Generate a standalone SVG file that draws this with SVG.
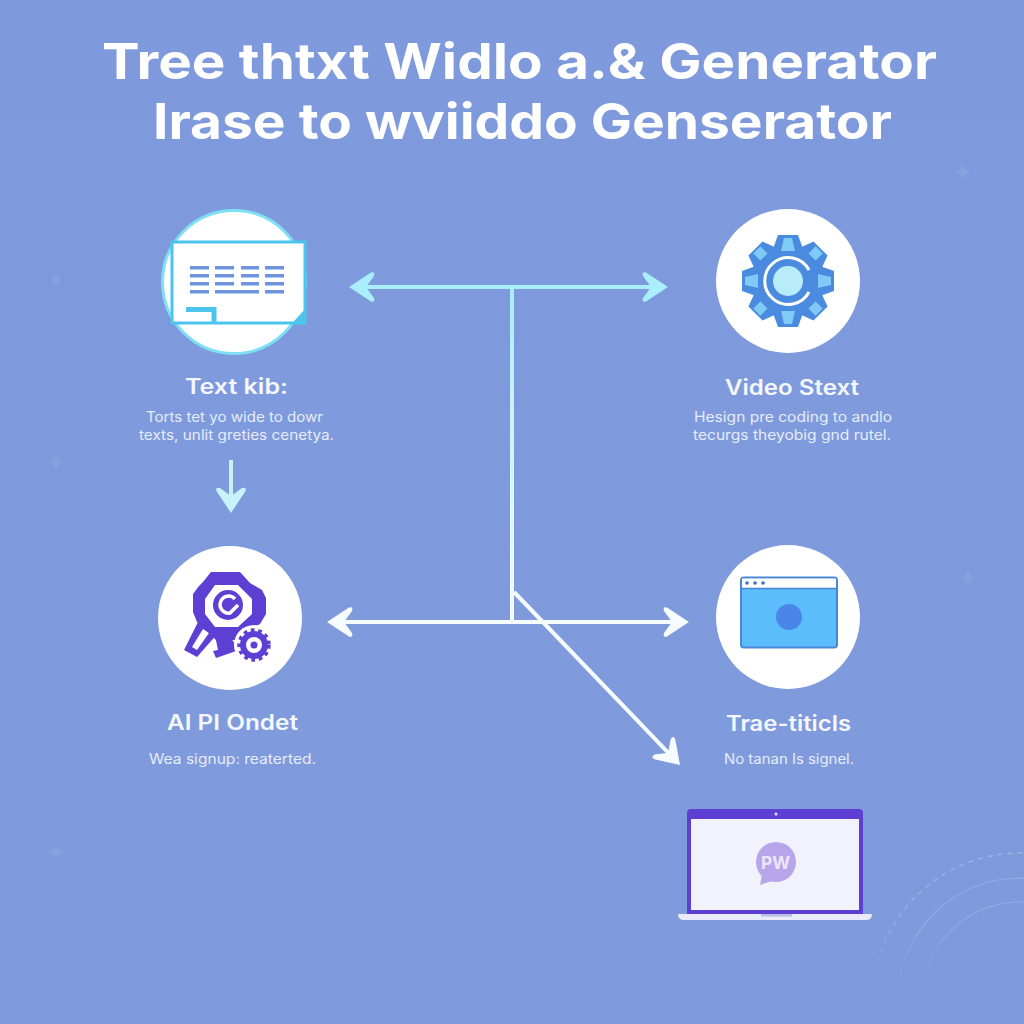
<svg xmlns="http://www.w3.org/2000/svg" width="1024" height="1024" viewBox="0 0 1024 1024">
<style>
text{font-family:"Inter","Liberation Sans",sans-serif;text-anchor:middle;fill:#fff}
.title{font-size:50px;font-weight:700}
.head{font-size:21px;font-weight:600;fill:#f4f7fe}
.body{font-size:14px;font-weight:400;fill:#e6ecfb}
.disc{fill:#fff}
.conn{fill:none;stroke-width:4}
.spark{fill:#fff;opacity:.07}
.deco{fill:none;stroke:url(#fade);stroke-width:1.200}
.bar{fill:#6f93de}
</style>
<defs>
<linearGradient id="bg" x1="0" y1="0" x2="0" y2="1"><stop offset="0" stop-color="#7e9adc"/><stop offset="1" stop-color="#7f9bdc"/></linearGradient>
<linearGradient id="stem" gradientUnits="userSpaceOnUse" x1="0" y1="287" x2="0" y2="622"><stop offset="0" stop-color="#a8eefc"/><stop offset="1" stop-color="#f8fcfe"/></linearGradient>
<linearGradient id="fade" gradientUnits="userSpaceOnUse" x1="0" y1="850" x2="0" y2="985"><stop offset="0" stop-color="#fff" stop-opacity=".32"/><stop offset=".6" stop-color="#fff" stop-opacity=".2"/><stop offset="1" stop-color="#fff" stop-opacity="0"/></linearGradient>
<marker id="hc" viewBox="-27 -17 29 34" refX="-15" refY="0" markerWidth="29" markerHeight="34" markerUnits="userSpaceOnUse" orient="auto-start-reverse"><path d="M0 0L-22 -14.500Q-26.500 -16 -25 -11L-17 0L-25 11Q-26.500 16 -22 14.500Z" fill="#a8eefc"/></marker>
<marker id="hw" viewBox="-27 -17 29 34" refX="-15" refY="0" markerWidth="29" markerHeight="34" markerUnits="userSpaceOnUse" orient="auto-start-reverse"><path d="M0 0L-22 -14.500Q-26.500 -16 -25 -11L-17 0L-25 11Q-26.500 16 -22 14.500Z" fill="#f6fbfe"/></marker>
<marker id="hp" viewBox="-27 -17 29 34" refX="-15" refY="0" markerWidth="29" markerHeight="34" markerUnits="userSpaceOnUse" orient="auto-start-reverse"><path d="M0 0L-22 -14.500Q-26.500 -16 -25 -11L-17 0L-25 11Q-26.500 16 -22 14.500Z" fill="#c8f3fb"/></marker>
<path id="sp" d="M0 -10Q1 -1 8 0Q1 1 0 10Q-1 1 -8 0Q-1 -1 0 -10Z"/>
<path id="tooth" d="M-10 -46H10L15 -32H-15Z" fill="#4a8be0"/>
<path id="win" d="M-4 -43H4L7 -30H-7Z" fill="#7fcaf6"/>
<path id="dia" d="M-5 -44H5V-34H-5Z" fill="#7fcaf6"/>
</defs>
<rect width="1024" height="1024" fill="url(#bg)"/>

<g id="decor">
<use href="#sp" class="spark" x="963" y="172"/>
<use href="#sp" class="spark" x="56" y="280"/>
<use href="#sp" class="spark" x="56" y="462"/>
<use href="#sp" class="spark" x="968" y="578"/>
<use href="#sp" class="spark" x="56" y="852"/>
<circle class="deco" cx="1020" cy="1000" r="147" stroke-dasharray="5 5"/>
<circle class="deco" cx="1020" cy="1000" r="122" opacity=".7"/>
<circle class="deco" cx="1020" cy="1000" r="98" opacity=".7"/>
</g>

<g id="title">
<text class="title" x="519.500" y="79" textLength="835" lengthAdjust="spacingAndGlyphs">Tree thtxt Widlo a.&amp; Generator</text>
<text class="title" x="522.500" y="139" textLength="739" lengthAdjust="spacingAndGlyphs">Irase to wviiddo Genserator</text>
</g>

<g id="connectors">
<line class="conn" x1="364" y1="287" x2="653" y2="287" stroke="#a8eefc" marker-start="url(#hc)" marker-end="url(#hc)"/>
<line class="conn" x1="512" y1="287" x2="512" y2="622" stroke="url(#stem)"/>
<line class="conn" x1="342" y1="622" x2="674" y2="622" stroke="#f6fbfe" marker-start="url(#hw)" marker-end="url(#hw)"/>
<line class="conn" x1="514" y1="592" x2="669.600" y2="754.200" stroke="#f6fbfe" marker-end="url(#hw)"/>
<line class="conn" x1="231" y1="460" x2="231" y2="498" stroke="#c8f3fb" marker-end="url(#hp)"/>
</g>

<g id="node-text">
<circle cx="234" cy="282" r="71.500" fill="#fff" stroke="#7fe0f4" stroke-width="3"/>
<rect x="172" y="242" width="133" height="81" fill="#fff" stroke="#4cc4ee" stroke-width="3"/>
<path d="M306 308V324.500H291Z" fill="#4cc4ee"/>
<path d="M186 309.500H214V322" fill="none" stroke="#4cc4ee" stroke-width="5"/>
<g class="bar">
<rect x="190" y="266" width="19" height="3.500"/><rect x="215" y="266" width="19" height="3.500"/><rect x="241" y="266" width="18" height="3.500"/><rect x="265" y="266" width="19" height="3.500"/>
<rect x="190" y="274" width="19" height="3.500"/><rect x="215" y="274" width="19" height="3.500"/><rect x="241" y="274" width="18" height="3.500"/><rect x="265" y="274" width="19" height="3.500"/>
<rect x="190" y="282" width="19" height="3.500"/><rect x="215" y="282" width="19" height="3.500"/><rect x="241" y="282" width="18" height="3.500"/><rect x="265" y="282" width="19" height="3.500"/>
<rect x="190" y="290" width="19" height="3.500"/><rect x="215" y="290" width="44" height="3.500"/><rect x="265" y="290" width="19" height="3.500"/>
</g>
<text class="head" x="236.500" y="394" textLength="103" lengthAdjust="spacingAndGlyphs">Text kib:</text>
<text class="body" x="234.500" y="422" textLength="177" lengthAdjust="spacingAndGlyphs">Torts tet yo wide to dowr</text>
<text class="body" x="236.500" y="440" textLength="195" lengthAdjust="spacingAndGlyphs">texts, unlit greties cenetya.</text>
</g>

<g id="node-video">
<circle class="disc" cx="788" cy="281" r="72"/>
<circle cx="788" cy="281" r="37" fill="#4a8be0"/>
<g transform="translate(788 281)">
<use href="#tooth"/><use href="#tooth" transform="rotate(45)"/><use href="#tooth" transform="rotate(90)"/><use href="#tooth" transform="rotate(135)"/><use href="#tooth" transform="rotate(180)"/><use href="#tooth" transform="rotate(225)"/><use href="#tooth" transform="rotate(270)"/><use href="#tooth" transform="rotate(315)"/>
<use href="#win"/><use href="#win" transform="rotate(90)"/><use href="#win" transform="rotate(180)"/><use href="#win" transform="rotate(270)"/>
<use href="#dia" transform="rotate(45)"/><use href="#dia" transform="rotate(135)"/><use href="#dia" transform="rotate(225)"/><use href="#dia" transform="rotate(315)"/>
</g>
<path d="M809 270A23.500 23.500 0 1 0 809 292" fill="none" stroke="#fff" stroke-width="3"/>
<circle cx="788" cy="281" r="15" fill="#b9ecf9"/>
<text class="head" x="792" y="395" textLength="134" lengthAdjust="spacingAndGlyphs">Video Stext</text>
<text class="body" x="793" y="422" textLength="198" lengthAdjust="spacingAndGlyphs">Hesign pre coding to andlo</text>
<text class="body" x="792" y="440" textLength="198" lengthAdjust="spacingAndGlyphs">tecurgs theyobig gnd rutel.</text>
</g>

<g id="node-ai">
<circle class="disc" cx="230" cy="618" r="72"/>
<path fill="#5d3fd3" d="M200 618L184 650L197 657L219 632Z"/>
<path fill="#fff" d="M203 629L192 647L197 650L209 633Z"/>
<path fill="#5d3fd3" d="M213 626H223L239 650L216 658L213 651L218 650Z"/>
<path fill="#5d3fd3" d="M211 572H240L250 583L262 590L266 598V614L260 624L248 630L240 640H216L206 630L197 622L193 612V594L199 586L203 582Z"/>
<path fill="#fff" d="M215 585H238L252 599V614L238 627H215L205 614V599Z"/>
<circle cx="228" cy="605" r="15" fill="#5d3fd3"/>
<path d="M235 599A8.500 8.500 0 1 0 230 613L238 605" fill="none" stroke="#fff" stroke-width="3.500"/>
<circle cx="254" cy="645" r="20" fill="#fff"/>
<circle cx="254" cy="645" r="11" fill="none" stroke="#5d3fd3" stroke-width="6"/>
<circle cx="254" cy="645" r="14.500" fill="none" stroke="#5d3fd3" stroke-width="4.500" stroke-dasharray="3.600 3.600"/>
<circle cx="254" cy="645" r="3.500" fill="#5d3fd3"/>
<text class="head" x="232.500" y="730" textLength="131" lengthAdjust="spacingAndGlyphs">AI PI Ondet</text>
<text class="body" x="232.500" y="764" textLength="167" lengthAdjust="spacingAndGlyphs">Wea signup: reaterted.</text>
</g>

<g id="node-browser">
<circle class="disc" cx="788" cy="617" r="72"/>
<rect x="741" y="577.500" width="96" height="70" rx="3" fill="#5bbdf9" stroke="#4a86d8" stroke-width="2"/>
<rect x="742" y="578.500" width="94" height="9.500" fill="#fff"/>
<line x1="741" y1="588.500" x2="837" y2="588.500" stroke="#4a86d8" stroke-width="1.500"/>
<circle cx="747" cy="583" r="1.800" fill="#3f6fc4"/><circle cx="755" cy="583" r="1.800" fill="#3f6fc4"/><circle cx="763" cy="583" r="1.800" fill="#3f6fc4"/>
<circle cx="789" cy="617" r="13" fill="#4a86ea"/>
<text class="head" x="788.500" y="731" textLength="125" lengthAdjust="spacingAndGlyphs">Trae-titicls</text>
<text class="body" x="789" y="764" textLength="130" lengthAdjust="spacingAndGlyphs">No tanan Is signel.</text>
</g>

<g id="node-laptop">
<path d="M687 914V813Q687 809 691 809H859Q863 809 863 813V914Z" fill="#5d3fd3"/>
<rect x="691" y="819" width="168" height="91" fill="#f1f2fc"/>
<circle cx="776" cy="814" r="1.500" fill="#e6e3fa"/>
<path d="M678 914H872Q872 920 866 920H684Q678 920 678 914Z" fill="#e9ebf9"/>
<rect x="761" y="914" width="31" height="2.500" fill="#b5bde4"/>
<path d="M762 875L760 885L772 881Z" fill="#b9a5ea"/>
<circle cx="776" cy="862" r="20" fill="#b9a5ea"/>
<text x="775.500" y="869" font-size="18" font-weight="700" textLength="29" lengthAdjust="spacingAndGlyphs" style="fill:#ece6fb">PW</text>
</g>
</svg>
